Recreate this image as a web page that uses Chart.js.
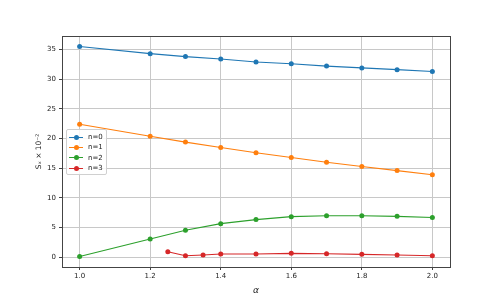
<!DOCTYPE html>
<html>
<head>
<meta charset="utf-8">
<script src="https://cdn.jsdelivr.net/npm/chart.js@4"></script>
<style>
  html, body { margin: 0; padding: 0; background: #fff; }
  #wrap { position: relative; width: 500px; height: 300px; }
  #legend {
    position: absolute; left: 66px; top: 129px;
    background: rgba(255,255,255,0.85); border: 1px solid #d0d0d0; border-radius: 2px;
    padding: 2px 3px 1px 2px; font: 7px "DejaVu Sans", sans-serif; color: #222;
  }
  .item { display: flex; align-items: center; height: 10.3px; }
  .swatch { position: relative; width: 14px; height: 6px; margin-right: 5px; }
  .swatch .ln { position: absolute; left: 0; right: 0; top: 2.5px; height: 1px; }
  .swatch .dot { position: absolute; left: 4.5px; top: 0.5px; width: 5px; height: 5px; border-radius: 50%; }
</style>
</head>
<body>
<div id="wrap">
  <canvas id="myChart" width="500" height="300"></canvas>
  <div id="legend"></div>
</div>
<script>
// alpha values
let alphaMain = [1.0, 1.2, 1.3, 1.4, 1.5, 1.6, 1.7, 1.8, 1.9, 2.0];
let alphaN3 = [1.25, 1.3, 1.35, 1.4, 1.5, 1.6, 1.7, 1.8, 1.9, 2.0];

// S_x x 10^-2 per n
let n0 = [35.5, 34.3, 33.8, 33.4, 32.9, 32.6, 32.2, 31.9, 31.6, 31.3];
let n1 = [22.4, 20.4, 19.4, 18.5, 17.6, 16.8, 16.0, 15.3, 14.6, 13.9];
let n2 = [0.15, 3.1, 4.55, 5.67, 6.35, 6.85, 7.0, 7.0, 6.9, 6.7];
let n3 = [0.95, 0.27, 0.4, 0.55, 0.55, 0.67, 0.6, 0.5, 0.4, 0.27];

let labels = ["n=0", "n=1", "n=2", "n=3"];
let colores = ["#1f77b4", "#ff7f0e", "#2ca02c", "#d62728"];

let xTicks = [1.0, 1.2, 1.4, 1.6, 1.8, 2.0];
let yTicks = [0, 5, 10, 15, 20, 25, 30, 35];

function puntos(xs, ys) {
  return xs.map((x, i) => ({ x: x, y: ys[i] }));
}

const series = [puntos(alphaMain, n0), puntos(alphaMain, n1), puntos(alphaMain, n2), puntos(alphaN3, n3)];

const data = {
  datasets: series.map((s, i) => ({
    label: labels[i],
    data: s,
    borderColor: colores[i],
    backgroundColor: colores[i],
    borderWidth: 1.1,
    pointRadius: 2.5,
    pointBorderWidth: 0,
    tension: 0,
  })),
};

const marco = {
  id: "marco",
  afterDraw(chart) {
    const a = chart.chartArea;
    const ctx = chart.ctx;
    ctx.save();
    ctx.strokeStyle = "#444";
    ctx.lineWidth = 1;
    ctx.strokeRect(Math.round(a.left) + 0.5, Math.round(a.top) + 0.5, Math.round(a.right - a.left), Math.round(a.bottom - a.top));
    ctx.restore();
  },
};

const fuente = { family: "DejaVu Sans", size: 7 };

const config = {
  type: "line",
  data,
  options: {
    responsive: false,
    animation: false,
    layout: { padding: { top: 36, right: 50, left: 0, bottom: 0 } },
    plugins: { legend: { display: false }, tooltip: { enabled: false } },
    scales: {
      x: {
        type: "linear",
        min: 0.95,
        max: 2.05,
        afterBuildTicks: (s) => { s.ticks = xTicks.map((v) => ({ value: v })); },
        afterFit: (s) => { s.height = 33; },
        ticks: { font: fuente, color: "#222", padding: 2, maxRotation: 0, callback: (v) => v.toFixed(1) },
        grid: { color: "#c8c8c8", lineWidth: 1, tickLength: 3, tickColor: "#444" },
        border: { display: false },
        title: { display: true, text: "α", font: { family: "DejaVu Sans", size: 9, style: "italic" }, color: "#222", padding: { top: 0 } },
      },
      y: {
        min: -1.63,
        max: 37.27,
        afterBuildTicks: (s) => { s.ticks = yTicks.map((v) => ({ value: v })); },
        afterFit: (s) => { s.width = 62; },
        ticks: { font: fuente, color: "#222", padding: 3 },
        grid: { color: "#c8c8c8", lineWidth: 1, tickLength: 3, tickColor: "#444" },
        border: { display: false },
        title: { display: true, text: "Sₓ × 10⁻²", font: { family: "DejaVu Sans", size: 7.5 }, color: "#222", padding: { top: 35, bottom: 0 } },
      },
    },
  },
  plugins: [marco],
};

var myChart = new Chart(document.getElementById("myChart"), config);

function dibujaLeyenda() {
  let textInner = "";
  labels.forEach((l, i) => {
    textInner += '<div class="item"><span class="swatch">';
    textInner += '<span class="ln" style="background:' + colores[i] + '"></span>';
    textInner += '<span class="dot" style="background:' + colores[i] + '"></span>';
    textInner += "</span>" + l + "</div>";
  });
  document.getElementById("legend").innerHTML = textInner;
}
dibujaLeyenda();
</script>
</body>
</html>
